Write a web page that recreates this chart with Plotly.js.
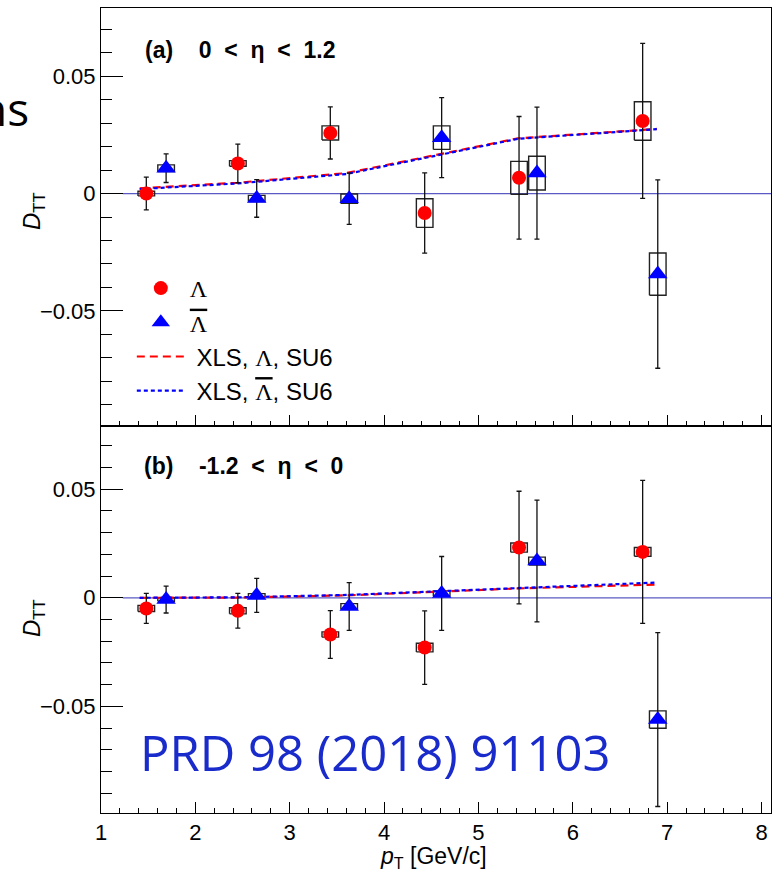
<!DOCTYPE html>
<html><head><meta charset="utf-8">
<script src="https://cdn.plot.ly/plotly-3.0.1.min.js"></script>
<style>body{margin:0;background:#fff}</style>
</head><body><div id="chart" style="width:778px;height:871px"></div>
<script>
// pT bin positions
const lamX = [1.48, 2.45, 3.43, 4.43, 5.43, 6.74];
const barX = [1.69, 2.65, 3.63, 4.61, 5.62, 6.90];
// panel (a) 0 < eta < 1.2
const aLamY    = [0.0000, 0.0128, 0.0258, -0.0083, 0.0067, 0.0309];
const aLamStat = [0.0070, 0.0082, 0.0111, 0.0171, 0.0261, 0.0330];
const aLamSys  = [0.0010, 0.0012, 0.0030, 0.0061, 0.0070, 0.0082];
const aBarY    = [0.0108, -0.0021, -0.0022, 0.0238, 0.0087, -0.0343];
const aBarStat = [0.0061, 0.0080, 0.0109, 0.0170, 0.0281, 0.0401];
const aBarSys  = [0.0014, 0.0013, 0.0020, 0.0050, 0.0072, 0.0090];
// panel (b) -1.2 < eta < 0
const bLamY    = [-0.0049, -0.0060, -0.0169, -0.0229, 0.0231, 0.0211];
const bLamStat = [0.0069, 0.0080, 0.0110, 0.0169, 0.0259, 0.0329];
const bLamSys  = [0.0014, 0.0014, 0.0012, 0.0020, 0.0021, 0.0020];
const bBarY    = [-0.0008, 0.0011, -0.0040, 0.0020, 0.0169, -0.0560];
const bBarStat = [0.0062, 0.0078, 0.0110, 0.0170, 0.0280, 0.0400];
const bBarSys  = [0.0008, 0.0008, 0.0013, 0.0012, 0.0018, 0.0040];
// model curves (XLS, SU6)
const modelX    = [1.41, 2.45, 3.60, 5.42, 6.89];
const aModelLam = [0.0022, 0.0046, 0.0087, 0.0235, 0.0275];
const aModelBar = [0.0019, 0.0043, 0.0083, 0.0233, 0.0274];
const bModelLam = [0.0000, 0.0001, 0.0011, 0.0043, 0.0061];
const bModelBar = [0.0000, 0.0002, 0.0013, 0.0046, 0.0070];
// axis settings
const xRange = [1, 8.1];
const yRange = [-0.099, 0.079];
const zeroLineStart = 1.23;

const BOXW = 0.088;
const FONT = 'Liberation Sans, Arial, sans-serif';
const RED = '#ff0000', BLUE = '#0000ff';
const NB = '\u00a0';
const SP = NB + NB;

function boxTrace(xs, ys, ss, xa, ya) {
  const bx = [], by = [];
  xs.forEach((x, i) => {
    const y = ys[i], s = ss[i];
    bx.push(x - BOXW, x + BOXW, x + BOXW, x - BOXW, x - BOXW, null);
    by.push(y - s, y - s, y + s, y + s, y - s, null);
  });
  return {x: bx, y: by, xaxis: xa, yaxis: ya, mode: 'lines',
    line: {color: '#222', width: 1.4}, showlegend: false, hoverinfo: 'skip'};
}
function ptTrace(xs, ys, es, xa, ya, sym, col, sz, name, show) {
  return {x: xs, y: ys, xaxis: xa, yaxis: ya, mode: 'markers', name: name,
    showlegend: show, legendrank: sym === 'circle' ? 1 : 2,
    marker: {symbol: sym, color: col, size: sz, line: {width: 0}},
    error_y: {type: 'data', array: es, visible: true, color: '#111', thickness: 1.3, width: 2.5}};
}
function modelTrace(ys, xa, ya, col, dash, name, show, rank) {
  return {x: modelX, y: ys, xaxis: xa, yaxis: ya, mode: 'lines', name: name,
    showlegend: show, legendrank: rank, line: {color: col, width: 2.2, dash: dash}};
}

const LAM = '<span style="font-family:Liberation Serif,serif">Λ</span>';
const overL = '<span style="font-family:Liberation Serif,serif;text-decoration:overline">Λ</span>';
const data = [
  boxTrace(lamX, aLamY, aLamSys, 'x2', 'y2'),
  boxTrace(barX, aBarY, aBarSys, 'x2', 'y2'),
  boxTrace(lamX, bLamY, bLamSys, 'x', 'y'),
  boxTrace(barX, bBarY, bBarSys, 'x', 'y'),
  modelTrace(aModelLam, 'x2', 'y2', RED, '8px,5px', NB + 'XLS, ' + LAM + ', SU6', true, 3),
  modelTrace(aModelBar, 'x2', 'y2', BLUE, '4px,3px', NB + 'XLS, ' + overL + ', SU6', true, 4),
  modelTrace(bModelLam, 'x', 'y', RED, '8px,5px', 'm1', false, 5),
  modelTrace(bModelBar, 'x', 'y', BLUE, '4px,3px', 'm2', false, 6),
  ptTrace(lamX, aLamY, aLamStat, 'x2', 'y2', 'circle', RED, 14, LAM, true),
  ptTrace(barX, aBarY, aBarStat, 'x2', 'y2', 'triangle-up', BLUE, 17, overL, true),
  ptTrace(lamX, bLamY, bLamStat, 'x', 'y', 'circle', RED, 14, 'l', false),
  ptTrace(barX, bBarY, bBarStat, 'x', 'y', 'triangle-up', BLUE, 17, 'b', false)
];

const xCommon = {range: xRange, dtick: 1, tick0: 1, ticks: 'inside', ticklen: 11, tickwidth: 1, tickcolor: '#000',
  minor: {dtick: 0.2, tick0: 1, ticks: 'inside', ticklen: 5.5, tickwidth: 1, tickcolor: '#000'},
  showline: true, linecolor: '#000', linewidth: 1, mirror: true, showgrid: false, zeroline: false,
  tickfont: {family: FONT, size: 22, color: '#000'}};
const yCommon = {range: yRange, dtick: 0.05, tick0: 0, ticks: 'inside', ticklen: 22, tickwidth: 1, tickcolor: '#000',
  minor: {dtick: 0.01, tick0: 0, ticks: 'inside', ticklen: 11, tickwidth: 1, tickcolor: '#000'},
  showline: true, linecolor: '#000', linewidth: 1, mirror: true, showgrid: false, zeroline: false,
  tickfont: {family: FONT, size: 22, color: '#000'}};

const split = 0.4807;
const layout = {
  width: 778, height: 871,
  margin: {l: 101, r: 7, t: 8, b: 58},
  paper_bgcolor: '#fff', plot_bgcolor: '#fff',
  showlegend: true,
  legend: {x: 0.046, y: 0.6795, xanchor: 'left', yanchor: 'top', bgcolor: 'rgba(0,0,0,0)',
    font: {family: FONT, size: 24, color: '#000'}, itemwidth: 48, tracegroupgap: 0},
  xaxis: Object.assign({}, xCommon, {anchor: 'y', domain: [0, 1]}),
  xaxis2: Object.assign({}, xCommon, {anchor: 'y2', domain: [0, 1], matches: 'x', showticklabels: false}),
  yaxis: Object.assign({}, yCommon, {anchor: 'x', domain: [0, split]}),
  yaxis2: Object.assign({}, yCommon, {anchor: 'x2', domain: [split, 1]}),
  shapes: [
    {type: 'line', xref: 'x2', yref: 'y2', x0: zeroLineStart, x1: xRange[1], y0: 0, y1: 0, layer: 'below', line: {color: '#5a5ac4', width: 1.2}},
    {type: 'line', xref: 'x', yref: 'y', x0: zeroLineStart, x1: xRange[1], y0: 0, y1: 0, layer: 'below', line: {color: '#5a5ac4', width: 1.2}}
  ],
  annotations: [
    {xref: 'paper', yref: 'paper', x: 0.063, y: 0.9478, xanchor: 'left', yanchor: 'middle', showarrow: false,
      text: '<b>(a)' + NB.repeat(4) + '0' + SP + '&lt;' + SP + 'η' + SP + '&lt;' + SP + '1.2</b>', font: {family: FONT, size: 23, color: '#000'}},
    {xref: 'paper', yref: 'paper', x: 0.061, y: 0.431, xanchor: 'left', yanchor: 'middle', showarrow: false,
      text: '<b>(b)' + NB.repeat(4) + '-1.2' + SP + '&lt;' + SP + 'η' + SP + '&lt;' + SP + '0</b>', font: {family: FONT, size: 23, color: '#000'}},
    {xref: 'paper', yref: 'paper', x: -0.1015, y: 0.7478, xanchor: 'center', yanchor: 'middle', showarrow: false, textangle: -90,
      text: '<i>D</i><sub>TT</sub>', font: {family: FONT, size: 24, color: '#000'}},
    {xref: 'paper', yref: 'paper', x: -0.1015, y: 0.2422, xanchor: 'center', yanchor: 'middle', showarrow: false, textangle: -90,
      text: '<i>D</i><sub>TT</sub>', font: {family: FONT, size: 24, color: '#000'}},
    {xref: 'paper', yref: 'paper', x: 0.497, y: -0.0555, xanchor: 'center', yanchor: 'middle', showarrow: false, borderpad: 0,
      text: '<i>p</i><sub>T</sub> [GeV/c]', font: {family: FONT, size: 23, color: '#000'}},
    {xref: 'paper', yref: 'paper', x: 0.0552, y: 0.0758, xanchor: 'left', yanchor: 'middle', showarrow: false,
      text: 'PRD 98 (2018) 91103', font: {family: 'Open Sans, sans-serif', size: 49, color: '#1a2bcc'}},
    {xref: 'paper', yref: 'paper', x: -0.106, y: 0.876, xanchor: 'right', yanchor: 'middle', showarrow: false, borderpad: 0,
      text: 'ns', font: {family: 'Open Sans, sans-serif', size: 46, color: '#000'}}
  ]
};
Plotly.newPlot('chart', data, layout, {displayModeBar: false, staticPlot: true});
</script>
</body></html>
